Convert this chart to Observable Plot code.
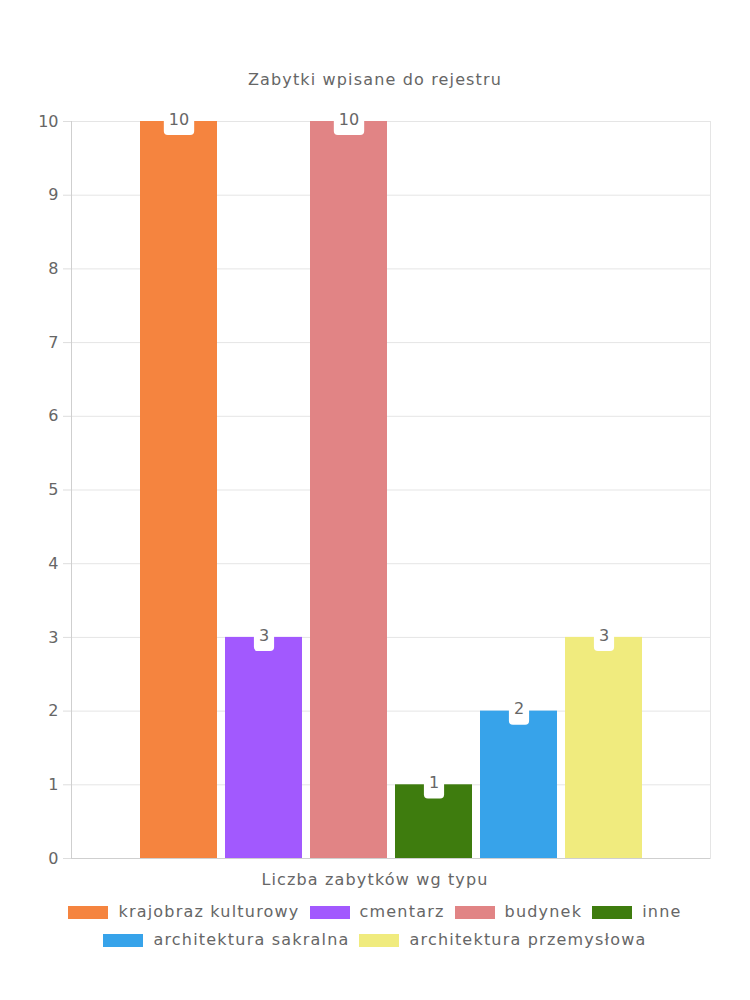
<!DOCTYPE html>
<html>
<head>
<meta charset="utf-8">
<script src="https://cdn.jsdelivr.net/npm/d3@7"></script>
<script src="https://cdn.jsdelivr.net/npm/@observablehq/plot@0.6"></script>
<style>
  body { margin: 0; background: #fff; font-family: "DejaVu Sans", sans-serif; color: #666; }
  #wrap { width: 750px; }
  .title { padding-top: 70px; height: 30px; line-height: 20px; text-align: center; font-size: 16px; letter-spacing: 1.15px; }
  .xlabel { text-align: center; font-size: 16px; line-height: 24px; letter-spacing: 1.15px; }
  .legend { display: flex; flex-wrap: wrap; justify-content: center; column-gap: 10px; row-gap: 12px; padding-top: 12px; width: 750px; }
  .item { display: flex; align-items: center; gap: 10px; font-size: 16px; line-height: 16px; letter-spacing: 1.2px; }
  .sw { width: 40px; height: 13px; display: inline-block; }
</style>
</head>
<body>
<div id="wrap">
  <div class="title" id="title"></div>
  <div id="chart"></div>
  <div class="xlabel" id="xlabel"></div>
  <div class="legend" id="legend"></div>
</div>
<script>
const title = "Zabytki wpisane do rejestru";
const groupLabel = "Liczba zabytków wg typu";
const categories = ["krajobraz kulturowy", "cmentarz", "budynek", "inne", "architektura sakralna", "architektura przemysłowa"];
const values = [10, 3, 10, 1, 2, 3];
const colors = ["#F5843F", "#A259FE", "#E18485", "#3E7C0E", "#37A3EA", "#F0EB7E"];
const yTicks = [0, 1, 2, 3, 4, 5, 6, 7, 8, 9, 10];

const data = categories.map((c, i) => ({category: c, value: values[i]}));

document.getElementById("title").textContent = title;
document.getElementById("xlabel").textContent = groupLabel;

const chart = Plot.plot({
  width: 750,
  height: 768,
  marginTop: 21,
  marginLeft: 71,
  marginRight: 40,
  marginBottom: 10,
  style: {fontFamily: "DejaVu Sans, sans-serif", fontSize: "16px", color: "#666", background: "#fff"},
  x: {domain: categories, paddingInner: 0.1, paddingOuter: 0.8, axis: null},
  y: {domain: [0, 10], ticks: yTicks, axis: null},
  color: {domain: categories, range: colors},
  marks: [
    Plot.gridY(yTicks, {stroke: "#e5e5e5", strokeOpacity: 1}),
    Plot.frame({anchor: "right", stroke: "#e5e5e5"}),
    Plot.barY(data, {x: "category", y: "value", fill: "category"}),
    Plot.frame({anchor: "left", stroke: "#cfcfcf"}),
    Plot.ruleY([0], {stroke: "#cfcfcf"}),
    Plot.axisY(yTicks, {tickSize: 8, tickPadding: 5, stroke: "#ddd", fill: "#666", fontSize: 16, label: null, tickFormat: d3.format("d")}),
    Plot.text(data, {x: "category", y: "value", text: d => String(d.value), fill: "#666", fontSize: 16, dy: -2})
  ]
});
document.getElementById("chart").appendChild(chart);

// white rounded boxes behind value labels
const textGroups = chart.querySelectorAll('g[aria-label="text"]');
const labelGroup = textGroups[textGroups.length - 1];
if (labelGroup) {
  const texts = Array.from(labelGroup.querySelectorAll("text"));
  texts.forEach(t => {
    const bb = t.getBBox();
    const cy = bb.y + bb.height / 2;
    const r = document.createElementNS("http://www.w3.org/2000/svg", "rect");
    r.setAttribute("x", bb.x - 5);
    r.setAttribute("y", cy - 16);
    r.setAttribute("width", bb.width + 10);
    r.setAttribute("height", 32);
    r.setAttribute("rx", 4);
    r.setAttribute("fill", "#fff");
    const tr = t.getAttribute("transform");
    if (tr) r.setAttribute("transform", tr);
    labelGroup.insertBefore(r, labelGroup.firstChild);
  });
}

const legend = document.getElementById("legend");
categories.forEach((c, i) => {
  const item = document.createElement("div");
  item.className = "item";
  const sw = document.createElement("span");
  sw.className = "sw";
  sw.style.background = colors[i];
  const t = document.createElement("span");
  t.textContent = c;
  item.appendChild(sw);
  item.appendChild(t);
  legend.appendChild(item);
});
</script>
</body>
</html>
